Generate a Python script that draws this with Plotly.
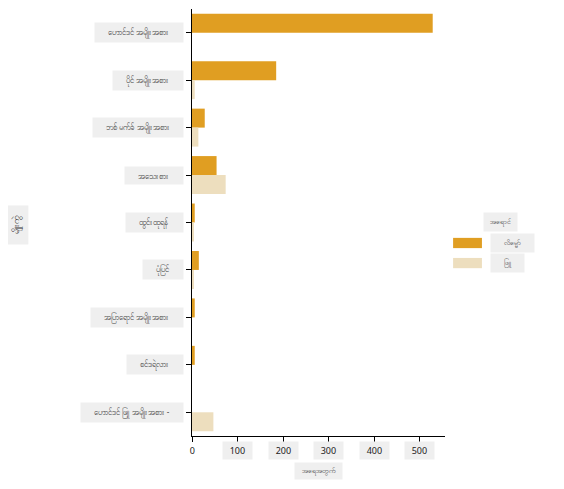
import plotly.graph_objects as go

# pumpkin variety counts by colour (Burmese labels)
varieties = [
    "ဟောင်ဒင် အမျိုးအစား",
    "ပိုင် အမျိုးအစား",
    "ဘစ် မက်ခ် အမျိုးအစား",
    "အသေးစား",
    "ထွင်းထုရန်",
    "ပုံပြင်",
    "အပြာရောင် အမျိုးအစား",
    "စင်ဒရဲလား",
    "ဟောင်ဒင် ဖြူ အမျိုးအစား -",
]
orange_counts = [529, 185, 28, 54, 6, 15, 6, 6, 0]
white_counts = [0, 6, 14, 74, 4, 4, 0, 0, 47]
colour_names = ["လိမ္မော်", "ဖြူ"]
colours = ["#E09E22", "#EDDEBE"]
x_ticks = [0, 100, 200, 300, 400, 500]
legend_title = "အရောင်"
x_title = "အရေအတွက်"
y_title = "မျိုးကွဲ"

font = "Noto Sans, DejaVu Sans, sans-serif"
box = "#EFEFEF"
pad = "&nbsp;" * 5

fig = go.Figure()
for name, vals, col in zip(colour_names, [orange_counts, white_counts], colours):
    fig.add_trace(go.Bar(y=varieties, x=vals, name=name, orientation="h",
                         marker_color=col, marker_line_width=0, showlegend=False))

ann = []
# y tick labels with grey boxes
for v in varieties:
    ann.append(dict(x=-0.03, xref="paper", y=v, yref="y", text=pad + v + pad, showarrow=False,
                    xanchor="right", yanchor="middle", bgcolor=box, borderpad=3,
                    font=dict(size=8, color="#444", family=font)))
# x tick labels
for t in x_ticks:
    ann.append(dict(x=t, xref="x", y=-0.012, yref="paper", text="&nbsp;&nbsp;" + str(t) + "&nbsp;&nbsp;",
                    showarrow=False, xanchor="center", yanchor="top",
                    bgcolor=box if t else "rgba(0,0,0,0)", borderpad=2,
                    font=dict(size=9, color="#222", family=font)))
ann.append(dict(x=0.5, xref="paper", y=-0.082, yref="paper", text="&nbsp;&nbsp;" + x_title + "&nbsp;&nbsp;",
                showarrow=False, xanchor="center", yanchor="middle", bgcolor=box, borderpad=3,
                font=dict(size=7, color="#444", family=font)))
ann.append(dict(x=-0.696, xref="paper", y=0.494, yref="paper", text="&nbsp;&nbsp;" + y_title + "&nbsp;&nbsp;",
                showarrow=False, xanchor="center", yanchor="middle", textangle=-90,
                bgcolor=box, borderpad=5, font=dict(size=9, color="#333", family=font)))

# manual legend
shapes = []
ann.append(dict(x=1.15, xref="paper", y=0.501, yref="paper", text="&nbsp;" + legend_title + "&nbsp;",
                showarrow=False, xanchor="left", yanchor="middle", bgcolor=box, borderpad=4,
                font=dict(size=7, color="#444", family=font)))
for i, (name, col) in enumerate(zip(colour_names, colours)):
    yc = 0.452 - i * 0.047
    shapes.append(dict(type="rect", xref="paper", yref="paper", x0=1.032, x1=1.146,
                       y0=yc - 0.012, y1=yc + 0.012, fillcolor=col, line_width=0))
    ann.append(dict(x=1.178, xref="paper", y=yc, yref="paper", text=pad + name + pad,
                    showarrow=False, xanchor="left", yanchor="middle", bgcolor=box, borderpad=4,
                    font=dict(size=7, color="#444", family=font)))

fig.update_layout(
    width=564, height=489,
    margin=dict(l=184, r=127, t=1, b=61),
    barmode="group", bargap=0.2, bargroupgap=0,
    plot_bgcolor="white", paper_bgcolor="white",
    annotations=ann, shapes=shapes,
    xaxis=dict(range=[0, 556], tickvals=x_ticks, showticklabels=False,
               ticks="outside", ticklen=5, tickcolor="black", showgrid=False,
               zeroline=False, showline=True, linecolor="black", linewidth=1.3),
    yaxis=dict(autorange="reversed", showticklabels=False, ticks="outside", ticklen=5,
               tickcolor="black", showgrid=False, showline=True, linecolor="black",
               linewidth=1.3),
)

fig.write_html("out.html")
